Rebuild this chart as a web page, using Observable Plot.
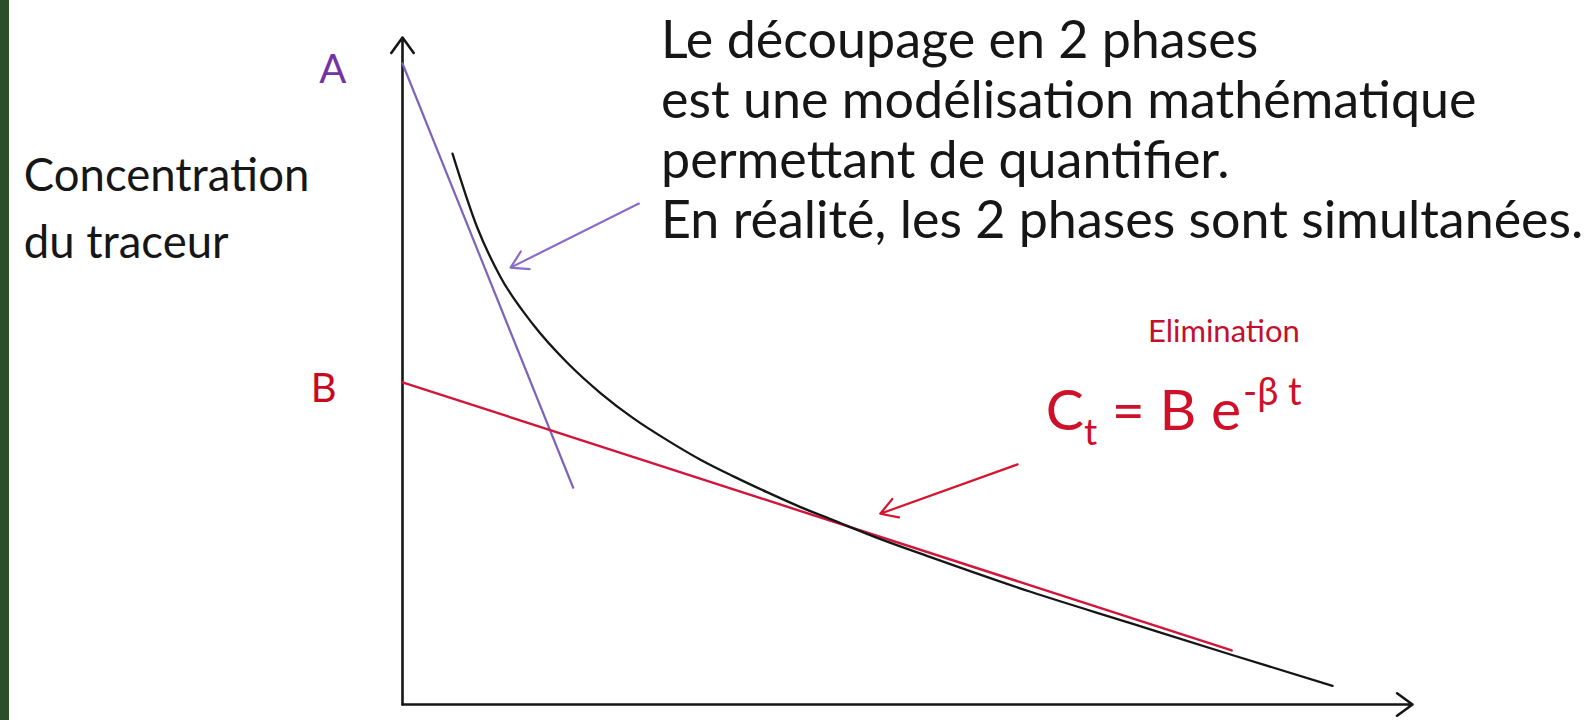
<!DOCTYPE html>
<html>
<head>
<meta charset="utf-8">
<script src="https://cdn.jsdelivr.net/npm/d3@7"></script>
<script src="https://cdn.jsdelivr.net/npm/@observablehq/plot@0.6"></script>
<style>
  html, body { margin: 0; padding: 0; background: #ffffff; }
  #wrap { position: relative; width: 1591px; height: 720px; overflow: hidden; background: #ffffff; }
  #strip { position: absolute; left: 0; top: 0; width: 9px; height: 720px; background: #2b4d2a; z-index: 2; }
</style>
</head>
<body>
<div id="wrap"><div id="strip"></div></div>
<script>
// ---- Data (time t, concentration C; axes 0–100) ----
// Observed decay curve
const curveT = [4.95, 7.43, 9.7, 12.97, 16.34, 19.6, 22.87, 26.24, 29.5, 32.77, 36.14, 39.41, 42.38, 47.33, 52.28, 62.18, 72.08, 81.98, 92.08];
const curveC = [82.6, 71.4, 64.1, 56.9, 51.2, 46.7, 42.9, 39.6, 36.7, 34.2, 31.8, 29.6, 27.8, 24.8, 22.1, 16.9, 12.2, 7.5, 2.8];
// Distribution tangent (starts at A)
const alphaT = [0, 16.9];
const alphaC = [96.1, 32.5];
// Elimination line (starts at B)
const betaT = [0, 82.1];
const betaC = [48.3, 8.1];
// Pointer arrows: tail -> tip
const pointerNames = ["distribution", "elimination"];
const pointerT1 = [23.4, 60.9];
const pointerC1 = [75.1, 36.0];
const pointerT2 = [10.7, 47.3];
const pointerC2 = [65.5, 28.6];
// Axes (both start at the origin)
const axisT2 = [0, 100];
const axisC2 = [100, 0];
// Texts
const yTitle = ["Concentration", "du traceur"];
const noteLines = [
  "Le découpage en 2 phases",
  "est une modélisation mathématique",
  "permettant de quantifier.",
  "En réalité, les 2 phases sont simultanées."
];
const labelA = "A";
const labelB = "B";
const elimLabel = "Elimination";
const formula = ["C", "t", " = B e", "-β t"];

// ---- Build tables ----
const curve = curveT.map((t, i) => ({t, c: curveC[i]}));
const alphaLine = alphaT.map((t, i) => ({t, c: alphaC[i]}));
const betaLine = betaT.map((t, i) => ({t, c: betaC[i]}));
const pointers = pointerNames.map((name, i) => ({name, t1: pointerT1[i], c1: pointerC1[i], t2: pointerT2[i], c2: pointerC2[i]}));
const axes = axisT2.map((t, i) => ({t2: t, c2: axisC2[i]}));

const purple = "#7d63bb";
const red = "#d2153a";
const ink = "#161616";
const pointerColor = {distribution: "#8a6cc9", elimination: "#d8142f"};
const formulaKey = formula.join("");

const chart = Plot.plot({
  width: 1591,
  height: 720,
  marginLeft: 402,
  marginRight: 179,
  marginTop: 37,
  marginBottom: 16,
  x: {domain: [0, 100], axis: null},
  y: {domain: [0, 100], axis: null},
  style: {background: "transparent", fontFamily: "Lato, sans-serif", overflow: "visible"},
  marks: [
    // axes with open arrowheads
    Plot.arrow(axes, {x1: 0, y1: 0, x2: "t2", y2: "c2", stroke: ink, strokeWidth: 2.6, headLength: 11, headAngle: 72}),
    // distribution line
    Plot.line(alphaLine, {x: "t", y: "c", stroke: purple, strokeWidth: 2.2}),
    // elimination line
    Plot.line(betaLine, {x: "t", y: "c", stroke: red, strokeWidth: 2.4}),
    // observed curve
    Plot.line(curve, {x: "t", y: "c", stroke: ink, strokeWidth: 2.3, curve: "monotone-x"}),
    // pointer arrows
    Plot.arrow(pointers, {x1: "t1", y1: "c1", x2: "t2", y2: "c2", stroke: d => pointerColor[d.name], strokeWidth: 2.2, headLength: 13, headAngle: 62}),
    // y title
    Plot.text([yTitle.join("\n")], {x: -37.5, y: 66.9, text: d => d, textAnchor: "start", lineAnchor: "bottom", lineHeight: 1.47, fontSize: 45.5, fill: ink}),
    // note block
    Plot.text([noteLines.join("\n")], {x: 25.6, y: 70.0, text: d => d, textAnchor: "start", lineAnchor: "bottom", lineHeight: 1.15, fontSize: 52, fill: ink}),
    // A and B labels
    Plot.text([labelA], {x: -6.9, y: 93.25, text: d => d, textAnchor: "middle", lineAnchor: "bottom", fontSize: 40, fill: "#7233a6"}),
    Plot.text([labelB], {x: -7.8, y: 45.3, text: d => d, textAnchor: "middle", lineAnchor: "bottom", fontSize: 40, fill: "#c80a1e"}),
    // Elimination label
    Plot.text([elimLabel], {x: 73.8, y: 54.4, text: d => d, textAnchor: "start", lineAnchor: "bottom", fontSize: 31, fill: "#c4102e"}),
    // formula (styled after rendering)
    Plot.text([formulaKey], {x: 63.7, y: 41.2, text: d => d, textAnchor: "start", lineAnchor: "bottom", fontSize: 57, fill: "#d01028"})
  ]
});

// Turn the formula text into sub/superscript tspans
d3.select(chart).selectAll("text").filter(function () { return this.textContent === formulaKey; }).each(function () {
  const t = d3.select(this);
  t.text(null);
  t.append("tspan").text(formula[0]);
  t.append("tspan").attr("font-size", 37).attr("dy", 15).text(formula[1]);
  t.append("tspan").attr("dy", -15).text(formula[2]);
  t.append("tspan").attr("font-size", 38).attr("dy", -25).attr("dx", 2).text(formula[3]);
});

document.getElementById("wrap").appendChild(chart);
</script>
</body>
</html>
